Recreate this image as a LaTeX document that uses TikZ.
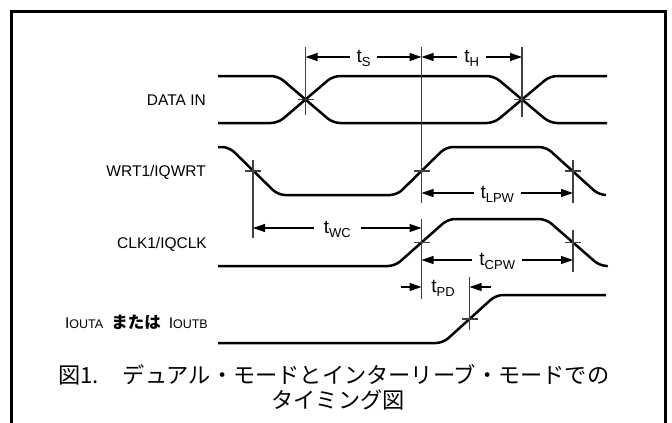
\documentclass[tikz,border=0pt]{standalone}
\usepackage{fontspec}
\setmainfont{Liberation Sans}
\newfontfamily\cjk{Noto Sans CJK JP}
\usetikzlibrary{arrows.meta}
\newcommand{\tsub}[1]{t\raisebox{-4.5pt}{\fontsize{13}{14}\selectfont #1}}
\begin{document}
\begin{tikzpicture}[x=1pt,y=-1pt,
  wave/.style={line width=2.5pt,rounded corners=7pt,line join=round},
  marker/.style={line width=1.3pt,draw=black!75},
  dim/.style={line width=1.1pt,{Triangle[length=12pt,width=8pt]}-{Triangle[length=12pt,width=8pt]}},
  onearrow/.style={line width=1.1pt,-{Triangle[length=12pt,width=8pt]}},
  lbl/.style={anchor=east,font=\fontsize{15.5}{17}\selectfont,inner sep=0pt},
  tlab/.style={fill=white,inner xsep=7pt,inner ysep=2pt,yshift=-1.5pt,font=\fontsize{19}{20}\selectfont}]
\useasboundingbox (0,0) rectangle (672,423);
% frame
\draw[line width=3.5pt] (11.5,440) -- (11.5,11.5) -- (665.5,11.5) -- (665.5,440);
% signal labels
\node[lbl] (lData) at (206,100) {DATA IN};
\node[lbl] (lWrt) at (206,172) {WRT1/IQWRT};
\node[lbl] (lClk) at (207,244) {CLK1/IQCLK};
\node[lbl] (lOut) at (208,322) {I{\fontsize{12.5}{13}\selectfont OUTA}\hspace{8pt}{\cjk\bfseries\fontsize{16.5}{17}\selectfont または}\hspace{8pt}I{\fontsize{12.5}{13}\selectfont OUTB}};
% DATA IN waveform
\draw[wave] (218,76) -- (278,76) -- (333,123) -- (494,123) -- (550,76) -- (607,76);
\draw[wave] (218,123) -- (278,123) -- (333,76) -- (494,76) -- (550,123) -- (607,123);
% WRT waveform
\draw[wave] (218,147) -- (229,147) -- (278,195) -- (397,195) -- (446,147) -- (546,147) -- (599,195) -- (606,195);
% CLK waveform
\draw[wave] (218,266) -- (395,266) -- (448,219) -- (546,219) -- (600,266) -- (606,266);
% IOUT waveform
\draw[wave] (218,343) -- (443,343) -- (496,295) -- (606,295);
% markers
\coordinate (m1t) at (305.5,47); \coordinate (m1b) at (305.5,115);
\coordinate (m2t) at (421.5,47); \coordinate (m2b) at (421.5,203);
\coordinate (m3t) at (522,47);   \coordinate (m3b) at (522,117);
\coordinate (m4t) at (253,160);  \coordinate (m4b) at (253,238);
\coordinate (m5t) at (573,160);  \coordinate (m5b) at (573,203);
\coordinate (m6t) at (421.5,219);\coordinate (m6b) at (421.5,299);
\coordinate (m7t) at (573,230);  \coordinate (m7b) at (573,272);
\coordinate (m8t) at (469.5,277);\coordinate (m8b) at (469.5,330);
\foreach \m in {1,...,8} {\draw[marker] (m\m t) -- (m\m b);}
% crossing ticks
\foreach \px/\py in {305.5/99.5, 522/99.5, 253/171, 421.5/171, 573/171, 421.5/242.5, 573/242.5, 469.5/319}
  {\draw[marker] (\px-8,\py) -- (\px+8,\py);}
% dimension arrows
\coordinate (ts1) at (305.5,57); \coordinate (ts2) at (421.5,57);
\coordinate (th2) at (522,57);
\draw[dim] (ts1) -- (ts2) node[tlab,midway] {\tsub{S}};
\draw[dim] (ts2) -- (th2) node[tlab,midway] {\tsub{H}};
\coordinate (lp1) at (421.5,193); \coordinate (lp2) at (573,193);
\draw[dim] (lp1) -- (lp2) node[tlab,midway] {\tsub{LPW}};
\coordinate (wc1) at (253,228); \coordinate (wc2) at (421.5,228);
\draw[dim] (wc1) -- (wc2) node[tlab,midway,inner xsep=10pt] {\tsub{WC}};
\coordinate (cp1) at (421.5,260); \coordinate (cp2) at (573,260);
\draw[dim] (cp1) -- (cp2) node[tlab,midway] {\tsub{CPW}};
\coordinate (pd0) at (401,287); \coordinate (pd1) at (421.5,287);
\coordinate (pd2) at (469.5,287); \coordinate (pd3) at (491,287);
\draw[onearrow] (pd0) -- (pd1);
\draw[onearrow] (pd3) -- (pd2);
\node[font=\fontsize{19}{20}\selectfont,inner sep=0pt,anchor=base] (tpd) at (443,292) {\tsub{PD}};
% caption
\node[font=\fontsize{22.2}{25}\selectfont\cjk,inner sep=0pt,anchor=base west] (cap1) at (58,383.4)
  {図1.\hspace{24pt}デュアル・モードとインターリーブ・モードでの};
\node[font=\fontsize{22.2}{25}\selectfont\cjk,inner sep=0pt,anchor=base] (cap2) at (338,408.4)
  {タイミング図};
\end{tikzpicture}
\end{document}
